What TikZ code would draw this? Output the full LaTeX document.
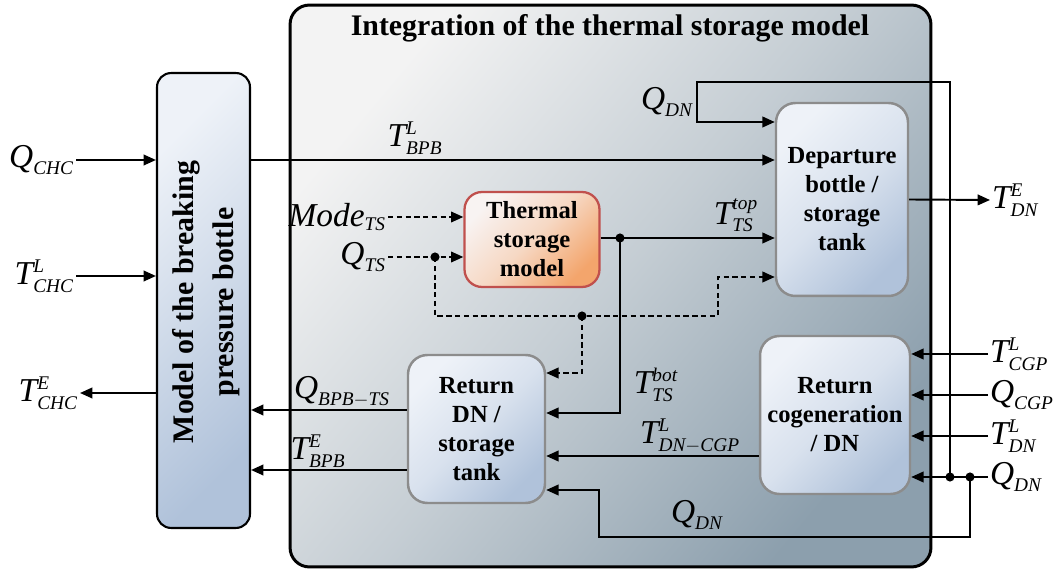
\documentclass[tikz,border=0pt]{standalone}
\usepackage{amsmath}
\usepackage{fontspec}
\setmainfont{Liberation Serif}
\usepackage{tikz}
\usetikzlibrary{
  arrows.meta,
  positioning,
  calc
}
\definecolor{panelA}{HTML}{F3F3F3}
\definecolor{panelB}{HTML}{8C9FAD}
\definecolor{blockA}{HTML}{EEF2F8}
\definecolor{blockB}{HTML}{B0C2DA}
\definecolor{heatA}{HTML}{F8F3F2}
\definecolor{heatB}{HTML}{F3A56C}
\definecolor{heatline}{HTML}{C0504D}
\definecolor{boxline}{HTML}{8C8C8C}

\newcommand{\subf}{\fontsize{11}{11}\selectfont\itshape}
\newcommand{\sgl}[2]{$\textit{#1}_{\text{\subf #2}}$}
\newcommand{\sgls}[3]{$\textit{#1}_{\text{\subf #2}}^{\text{\subf #3}}$}

\tikzset{
  panel/.style={
    rectangle, rounded corners=11pt, draw=black, line width=1.7pt,
    top color=panelA, bottom color=panelB, middle color=panelA!55!panelB,
    shading angle=50, inner sep=0pt
  },
  bpbbox/.style={
    rectangle, rounded corners=8pt, draw=black, line width=1.2pt,
    top color=blockA, bottom color=blockB, shading angle=45, inner sep=0pt
  },
  block/.style={
    rectangle, rounded corners=11pt, draw=boxline, line width=1.4pt,
    top color=blockA, bottom color=blockB, middle color=blockA!65!blockB,
    shading angle=45, inner sep=0pt,
    align=center, font=\fontsize{14}{16.5}\selectfont\bfseries
  },
  heatbox/.style={
    rectangle, rounded corners=10pt, draw=heatline, line width=1.3pt,
    top color=heatA, bottom color=heatB, middle color=heatA!65!heatB,
    shading angle=45, inner sep=0pt,
    align=center, font=\fontsize{14}{16.5}\selectfont\bfseries
  },
  siglabel/.style={
    font=\fontsize{19}{21}\selectfont, inner sep=1pt
  },
  sig/.style={
    -{Triangle[length=7pt,width=6pt]}, line width=1.1pt
  },
  dsig/.style={
    sig, dash pattern=on 3pt off 2pt
  },
}

\begin{document}
\begin{tikzpicture}[x=0.02cm, y=-0.02cm]
  \useasboundingbox (0,0) rectangle (1059,570);

  %% Container
  \node[panel, minimum width=12.82cm, minimum height=11.24cm] (integ) at (610.5,286) {};
  \node[font=\fontsize{17}{20}\selectfont\bfseries] (title) at (610,28)
    {Integration of the thermal storage model};

  %% Blocks
  \node[bpbbox, minimum width=1.86cm, minimum height=9.1cm] (bpb) at (203.5,300.5) {};
  \node[rotate=90, align=center, font=\fontsize{17}{23}\selectfont\bfseries] (bpbtxt)
    at (206,302) {Model of the breaking\\pressure bottle};
  \node[block, minimum width=2.64cm, minimum height=3.86cm] (dep) at (842,199.5)
    {Departure\\bottle /\\storage\\tank};
  \node[heatbox, minimum width=2.7cm, minimum height=1.9cm] (tsm) at (532,239.5)
    {Thermal\\storage\\model};
  \node[block, minimum width=2.74cm, minimum height=2.96cm] (retdn) at (476.5,429)
    {Return\\DN /\\storage\\tank};
  \node[block, minimum width=3.0cm, minimum height=3.16cm] (retcg) at (835,415)
    {Return\\cogeneration\\/ DN};

  %% Signal levels
  \coordinate (yBPB) at (0,160);
  \coordinate (yQDN) at (0,122);
  \coordinate (yDASH) at (0,277);
  \coordinate (yBOT) at (0,413);
  \coordinate (yDR) at (0,373);
  \coordinate (yQR) at (0,490);
  \coordinate (yQBPB) at (0,410);
  \coordinate (yTBPB) at (0,470);
  \coordinate (yDNCGP) at (0,456);

  %% Breaking pressure bottle
  \node[siglabel, anchor=east] (qchc) at (76,160) {\sgl{Q}{CHC}};
  \node[siglabel, anchor=east] (tlchc) at (76,276) {\sgls{T}{CHC}{L}};
  \node[siglabel, anchor=east] (techc) at (80,393) {\sgls{T}{CHC}{E}};
  \draw[sig] (qchc) -- (bpb.west |- qchc);
  \draw[sig] (tlchc) -- (bpb.west |- tlchc);
  \draw[sig] (bpb.west |- techc) -- (techc);

  \draw[sig] (bpb.east |- yBPB) -- (dep.west |- yBPB);
  \node[siglabel] (tlbpb) at (415,138) {\sgls{T}{BPB}{L}};

  \draw[sig] (retdn.west |- yQBPB) -- (bpb.east |- yQBPB);
  \node[siglabel] (qbpbts) at (342,392) {\sgl{Q}{BPB$-$TS}};
  \draw[sig] (retdn.west |- yTBPB) -- (bpb.east |- yTBPB);
  \node[siglabel] (tebpb) at (318,451) {\sgls{T}{BPB}{E}};

  %% Thermal storage model
  \node[siglabel, anchor=east] (mode) at (388,217) {$\textit{Mode}_{\text{\subf TS}}$};
  \node[siglabel, anchor=east] (qts) at (388,257) {\sgl{Q}{TS}};
  \draw[dsig] (mode) -- (tsm.west |- mode);
  \draw[dsig] (qts) -- (tsm.west |- qts);

  \coordinate (jqts) at (435,257);
  \coordinate (jmid) at (582,316);
  \coordinate (dturn) at (718,316);
  \draw[dsig] (jqts) |- (dturn) |- (dep.west |- yDASH);
  \draw[dsig] (jmid) |- (retdn.east |- yDR);

  \coordinate (jtop) at (620,238);
  \draw[sig] (tsm.east |- jtop) -- (dep.west |- jtop);
  \draw[sig] (jtop) |- (retdn.east |- yBOT);
  \node[siglabel] (ttop) at (736,215) {\sgls{T}{TS}{top}};
  \node[siglabel] (tbot) at (656,385) {\sgls{T}{TS}{bot}};

  %% Departure outlet
  \node[siglabel, anchor=west] (tedn) at (990,200) {\sgls{T}{DN}{E}};
  \draw[sig] (dep.east) -- (tedn.west);

  %% Return cogeneration inputs
  \foreach \nm/\y/\lab in {tlcgp/354/{\sgls{T}{CGP}{L}}, qcgp/395/{\sgl{Q}{CGP}},
                          tldn/436/{\sgls{T}{DN}{L}}, qdn/477/{\sgl{Q}{DN}}} {
    \node[siglabel, anchor=west] (\nm) at (988,\y) {\lab};
    \draw[sig] (\nm) -- (retcg.east |- \nm);
  }
  \draw[sig] (retcg.west |- yDNCGP) -- (retdn.east |- yDNCGP);
  \node[siglabel] (tldncgp) at (690,436) {\sgls{T}{DN$-$CGP}{L}};

  %% Q_DN distribution
  \coordinate (jq1) at (950,477);
  \coordinate (jq2) at (970,477);
  \coordinate (qloop) at (697,82);
  \coordinate (qret) at (599,537);
  \draw[sig] (jq1) |- (qloop) |- (dep.west |- yQDN);
  \node[siglabel, anchor=east] (qdntop) at (695,102) {\sgl{Q}{DN}};
  \draw[sig] (jq2) |- (qret) |- (retdn.east |- yQR);
  \node[siglabel] (qdnbot) at (697,515) {\sgl{Q}{DN}};

  %% Junctions
  \foreach \j in {jq1,jq2,jqts,jmid,jtop}
    \fill (\j) circle (2.6pt);
\end{tikzpicture}
\end{document}
